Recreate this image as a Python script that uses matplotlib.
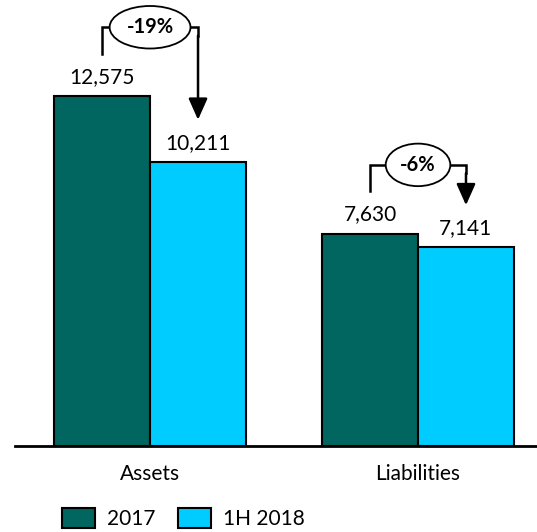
import matplotlib
matplotlib.use('Agg')
import matplotlib.pyplot as plt
import numpy as np

plt.rcParams['font.family'] = ['Lato', 'DejaVu Sans']

categories = ['Assets', 'Liabilities']
series_names = ['2017', '1H 2018']
vals_2017 = [12575, 7630]
vals_1h2018 = [10211, 7141]
changes = ['-19%', '-6%']

DARK = '#00665F'
LIGHT = '#00CCFF'

fig = plt.figure(figsize=(5.37, 5.32), dpi=100)
ax = fig.add_axes([15 / 537, 86 / 532, 522 / 537, 446 / 532])

x = np.arange(len(categories))
w = 0.358
b1 = ax.bar(x - w / 2, vals_2017, w, color=DARK, edgecolor='black', linewidth=1.5, label=series_names[0])
b2 = ax.bar(x + w / 2, vals_1h2018, w, color=LIGHT, edgecolor='black', linewidth=1.5, label=series_names[1])

for xi, v in zip(x - w / 2, vals_2017):
    ax.text(xi, v + 330, f'{v:,}', ha='center', va='bottom', fontsize=15)
for xi, v in zip(x + w / 2, vals_1h2018):
    ax.text(xi, v + 330, f'{v:,}', ha='center', va='bottom', fontsize=15)

# change brackets
for xi, v1, v2, lab in zip(x, vals_2017, vals_1h2018, changes):
    xl, xr = xi - w / 2, xi + w / 2
    top = v1 + 2470
    ax.plot([xl, xl, xr, xr], [v1 + 1520, top, top, top - 300], color='black', lw=1.8,
            solid_joinstyle='miter')
    ax.annotate('', xy=(xr, v2 + 1510), xytext=(xr, top - 300),
                arrowprops=dict(arrowstyle='-|>,head_width=0.58,head_length=1.3',
                                color='black', lw=1.8, shrinkA=0, shrinkB=0))
    ax.text(xi, top, lab, ha='center', va='center', fontsize=14.5, fontweight='bold',
            bbox=dict(boxstyle='ellipse,pad=0.25', fc='white', ec='black', lw=1.3))

ax.set_xlim(-0.504, 1.444)
ax.set_ylim(0, 12575 * 446 / 350)
for s in ['top', 'left', 'right']:
    ax.spines[s].set_visible(False)
ax.spines['bottom'].set_linewidth(2)
ax.set_yticks([])
ax.set_xticks(x)
ax.set_xticklabels(categories, fontsize=15)
ax.tick_params(axis='x', length=0, pad=13)

fig.legend(handles=[b1, b2], loc='lower left', bbox_to_anchor=(43 / 537, -0.03), ncol=2,
           frameon=False, fontsize=15, handlelength=1.6, handleheight=1.05,
           columnspacing=1.1, handletextpad=0.55)

fig.savefig('out.png', dpi=100)
